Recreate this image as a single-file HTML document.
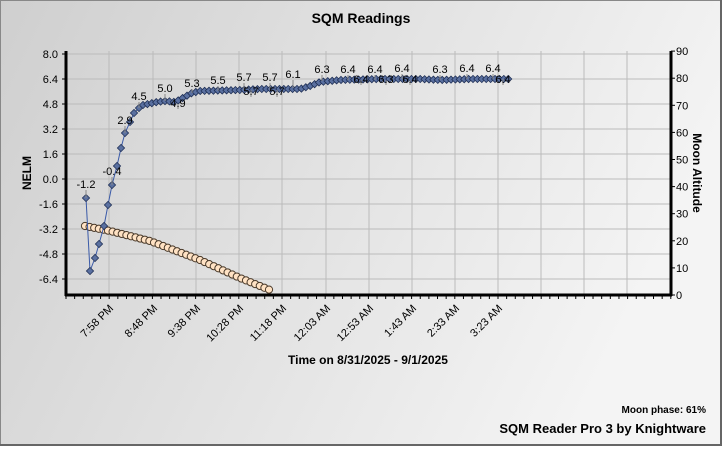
<!DOCTYPE html>
<html><head><style>
body{margin:0;width:722px;height:446px;overflow:hidden;font-family:"Liberation Sans",sans-serif}
</style></head><body>
<svg id="s" width="722" height="446" xmlns="http://www.w3.org/2000/svg" font-family="Liberation Sans, sans-serif">
<defs><linearGradient id="bg" x1="0" y1="0" x2="1" y2="0.3"><stop offset="0" stop-color="#cfcfcf"/><stop offset="1" stop-color="#f4f4f4"/></linearGradient></defs>
<rect x="0" y="0" width="722" height="446" fill="url(#bg)"/>
<rect x="0.5" y="0.5" width="720" height="444" fill="none" stroke="#888"/>
<line x1="721" y1="0" x2="721" y2="446" stroke="#666" stroke-width="2"/>
<line x1="0" y1="445" x2="722" y2="445" stroke="#666" stroke-width="2"/>
<text x="361" y="23" text-anchor="middle" font-size="14" font-weight="bold">SQM Readings</text>
<g id="grid" stroke="#bbb" stroke-width="1"></g>
<g id="axes"></g>
<g id="moon"></g>
<g id="nelm"></g>
<g id="lbl" font-size="11"></g>
<text transform="translate(31,173) rotate(-90)" text-anchor="middle" font-size="12" font-weight="bold">NELM</text>
<text transform="translate(693,173) rotate(90)" text-anchor="middle" font-size="12" font-weight="bold">Moon Altitude</text>
<text x="368" y="364" text-anchor="middle" font-size="12" font-weight="bold">Time on 8/31/2025 - 9/1/2025</text>
<text x="706" y="413" text-anchor="end" font-size="10" font-weight="bold">Moon phase: 61%</text>
<text x="706" y="433" text-anchor="end" font-size="13" font-weight="bold">SQM Reader Pro 3 by Knightware</text>
</svg>
<script>
var NS="http://www.w3.org/2000/svg";
function el(p,t,a,txt){var e=document.createElementNS(NS,t);for(var k in a)e.setAttribute(k,a[k]);if(txt)e.textContent=txt;document.getElementById(p).appendChild(e);return e;}
var L=66,R=671,T=51,B=295;
var gx=[109,153,196,239,282,326,369,412,455,498,541,584,627];
gx.forEach(function(x){el('grid','line',{x1:x,y1:T,x2:x,y2:B});});
var lv=["8.0","6.4","4.8","3.2","1.6","0.0","-1.6","-3.2","-4.8","-6.4"];
lv.forEach(function(v,i){var y=54+i*25;el('grid','line',{x1:L,y1:y,x2:R,y2:y});
 el('axes','text',{x:L-8,y:y+4,'text-anchor':'end','font-size':'11'},v);el('axes','line',{x1:L-4,y1:y,x2:L,y2:y,stroke:'#000'});});
for(var i=0;i<=9;i++){var y=B-i*27.1;el('axes','text',{x:R+5,y:y+4,'font-size':'11'},String(i*10));el('axes','line',{x1:R,y1:y,x2:R+4,y2:y,stroke:'#000'});}
el('axes','line',{x1:L,y1:T,x2:L,y2:B+1,stroke:'#000','stroke-width':3});
el('axes','line',{x1:R,y1:T,x2:R,y2:B+1,stroke:'#000','stroke-width':3});
el('axes','line',{x1:L-1,y1:B,x2:R+1,y2:B,stroke:'#000','stroke-width':3});
for(var x=L;x<R;x+=8.64){el('axes','line',{x1:x,y1:B,x2:x,y2:B+4,stroke:'#000'});}
var tl=["7:58 PM","8:48 PM","9:38 PM","10:28 PM","11:18 PM","12:03 AM","12:53 AM","1:43 AM","2:33 AM","3:23 AM"];
tl.forEach(function(t,i){var x=gx[i]+5,y=B+14;el('axes','text',{transform:'translate('+x+','+y+') rotate(-45)','text-anchor':'end','font-size':'11'},t);});
var mk=[[85,226],[110,231],[150,241],[200,260],[240,278],[270,290]];
function interp(k,x){for(var i=0;i<k.length-1;i++){if(x<=k[i+1][0]){var a=k[i],b=k[i+1];return a[1]+(b[1]-a[1])*(x-a[0])/(b[0]-a[0]);}}return k[k.length-1][1];}
var mp=[];for(var x=85;x<=270.5;x+=4.6){mp.push([x,interp(mk,x)]);}
el('moon','polyline',{points:mp.map(function(p){return p.join(',')}).join(' '),fill:'none',stroke:'#553',"stroke-width":1});
mp.forEach(function(p){el('moon','circle',{cx:p[0],cy:p[1],r:3.6,fill:'#ffe2c4',stroke:'#4a3a2a','stroke-width':1});});
var first=[[86,198],[90,271],[95,258],[99,244],[104,226],[108,205],[112,185],[117,166],[121,148],[125,133],[130,122],[134,113],[139,108],[143,105]];
var nk=first.concat([[148,104],[157,102],[166,101],[175,102],[179,100],[192,93],[200,91],[240,90],[260,89],[300,89],[310,86],[320,82],[340,80],[380,79],[420,79],[440,80],[470,79],[511,79]]);
var pts=first.slice();for(var x=147.4;x<=511.5;x+=4.4){pts.push([x,interp(nk,x)]);}
el('nelm','polyline',{points:pts.map(function(p){return p.join(',')}).join(' '),fill:'none',stroke:'#3a5aa8','stroke-width':1});
pts.forEach(function(p){var x=p[0],y=p[1],r=3.6;el('nelm','polygon',{points:(x)+','+(y-r)+' '+(x+r)+','+y+' '+x+','+(y+r)+' '+(x-r)+','+y,fill:'#5a70a0',stroke:'#1f2f55','stroke-width':0.8});});
var labs=[["-1.2",86,198,188],["-0.4",112,185,175],["2.9",125,133,124],["4.5",139,108,100],["5.0",165,101,92],["4.9",178,104,107],["5.3",192,93,87],["5.5",218,91,84],["5.7",244,90,81],["5.7",270,90,81],["5.7",251,90,95],["5.7",277,90,95],["6.1",293,88,78],["6.3",322,81,73],["6.4",348,80,73],["6.4",375,80,73],["6.4",402,79,72],["6.4",361,80,83],["6.3",386,80,83],["6.4",410,80,83],["6.3",440,80,73],["6.4",467,79,72],["6.4",493,79,72],["6.4",503,79,83]];
labs.forEach(function(l){var up=l[3]<l[2];el('lbl','line',{x1:l[1],y1:l[2],x2:l[1],y2:up?l[3]+2:l[3]+2,stroke:'#888'});el('lbl','text',{x:l[1],y:l[3],'text-anchor':'middle'},l[0]);});
</script>
</body></html>
